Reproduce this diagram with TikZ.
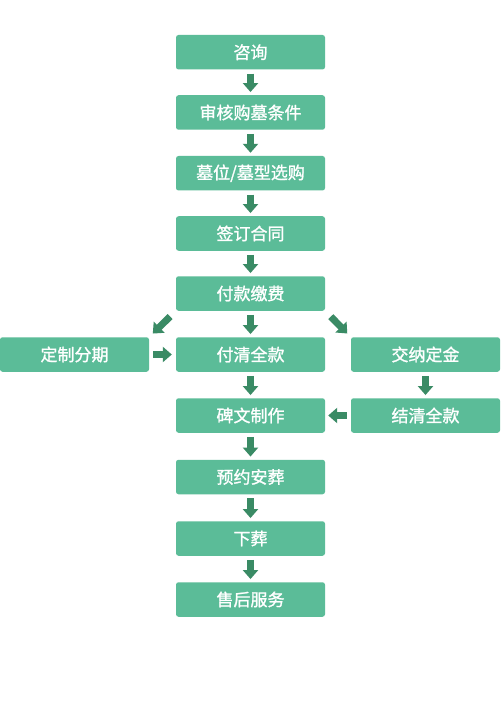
\documentclass[tikz,border=0pt]{standalone}
\usepackage{fontspec}
\newfontfamily\cjk[FakeBold=1.3]{Noto Sans CJK SC}
\usetikzlibrary{arrows.meta}
\definecolor{boxfill}{RGB}{91,188,152}
\definecolor{arrowc}{RGB}{58,139,101}
\tikzset{
  stepbox/.style={fill=boxfill, rounded corners=2.5pt, minimum width=149pt, minimum height=34.5pt,
    inner sep=0pt, text=white, font=\cjk\fontsize{17}{17}\selectfont},
  blockarrow/.style={draw=arrowc, line width=7pt, -{Triangle[width=15pt,length=9pt]}},
}
\begin{document}
\begin{tikzpicture}[x=1pt,y=-1pt]
\fill[white] (0,0) rectangle (500,719);
\useasboundingbox (0,0) rectangle (500,719);
\node[stepbox] (n1) at (250.5,52.25) {咨询};
\node[stepbox] (n2) at (250.5,112.5) {审核购墓条件};
\node[stepbox] (n3) at (250.5,173.25) {墓位/墓型选购};
\node[stepbox] (n4) at (250.5,233.5) {签订合同};
\node[stepbox] (n5) at (250.5,293.5) {付款缴费};
\node[stepbox] (n6) at (250.5,354.5) {付清全款};
\node[stepbox] (n7) at (250.5,415.5) {碑文制作};
\node[stepbox] (n8) at (250.5,477) {预约安葬};
\node[stepbox] (n9) at (250.5,538.5) {下葬};
\node[stepbox] (n10) at (250.5,599.5) {售后服务};
\node[stepbox] (l1) at (74.5,354.5) {定制分期};
\node[stepbox] (r1) at (425.5,354.5) {交纳定金};
\node[stepbox] (r2) at (425.5,415.5) {结清全款};
\foreach \a/\b in {n1/n2,n2/n3,n3/n4,n4/n5,n5/n6,n6/n7,n7/n8,n8/n9,n9/n10,r1/r2}{
  \draw[blockarrow, shorten <=4pt, shorten >=3pt] (\a.south) -- (\b.north);
}
\draw[blockarrow, shorten <=8pt, shorten >=5pt] (n5.south west) -- (l1.north east);
\draw[blockarrow, shorten <=8pt, shorten >=5pt] (n5.south east) -- (r1.north west);
\draw[blockarrow, shorten <=4pt, shorten >=4pt] (l1.east) -- (n6.west);
\draw[blockarrow, shorten <=4pt, shorten >=3pt] (r2.west) -- (n7.east);
\end{tikzpicture}
\end{document}
